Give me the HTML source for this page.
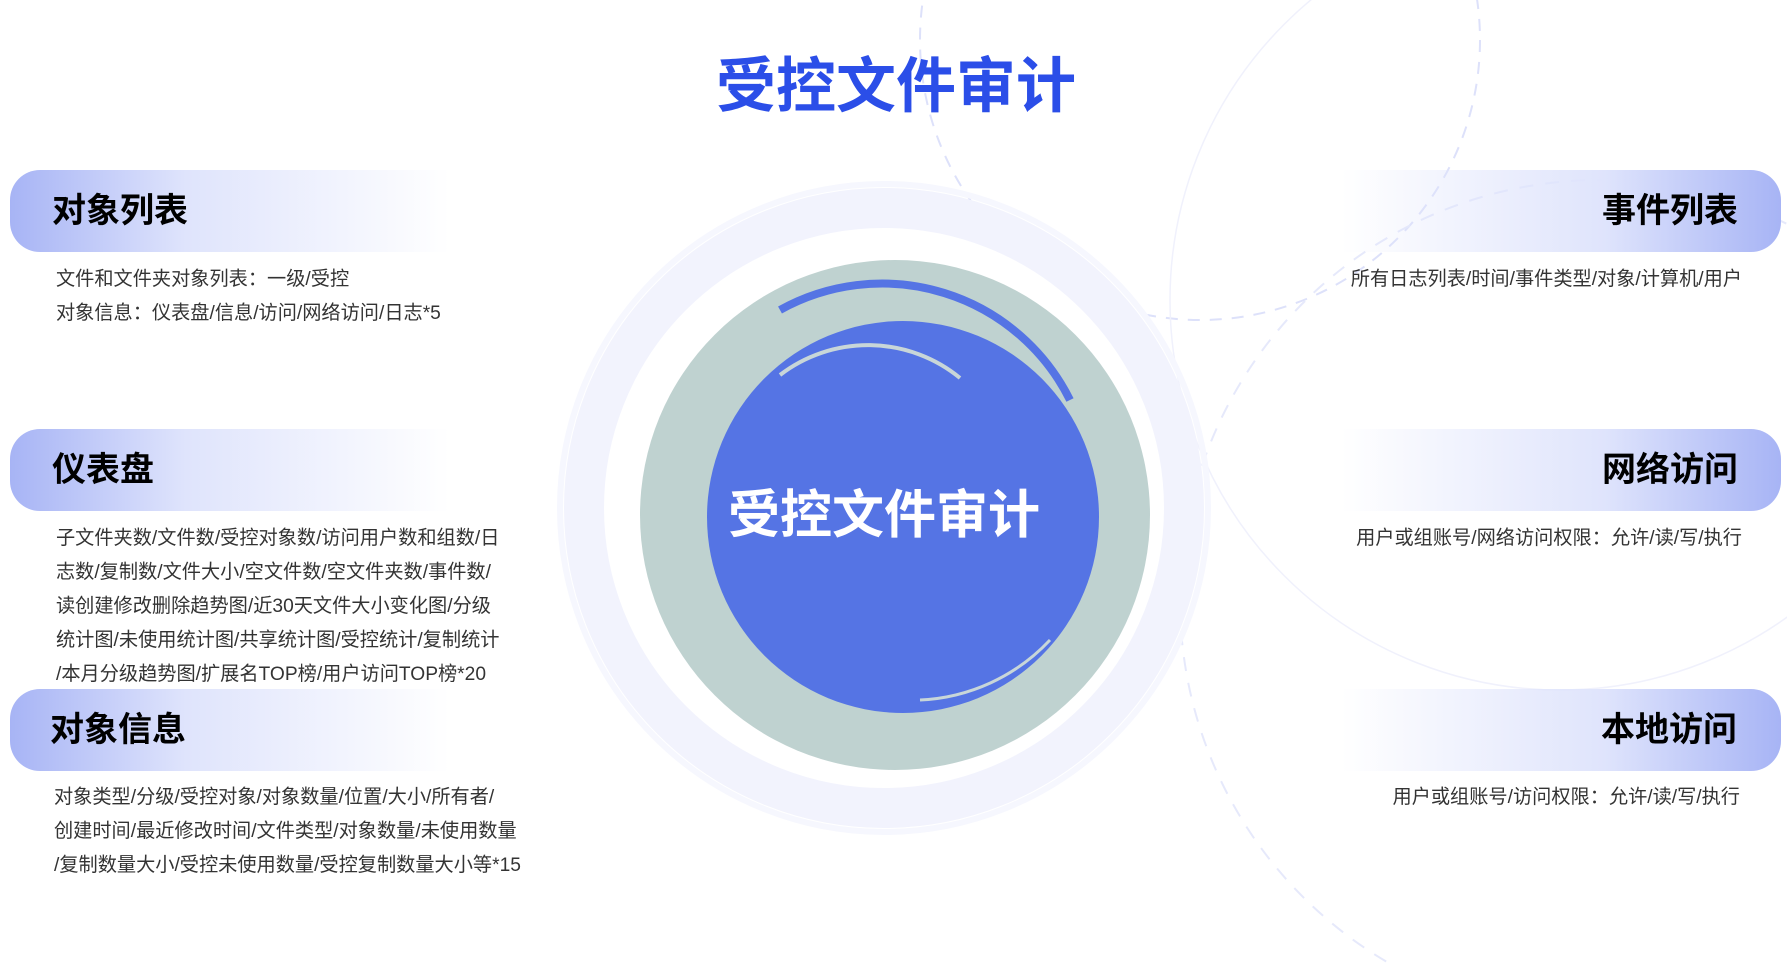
<!DOCTYPE html>
<html><head><meta charset="utf-8"><style>
html,body{margin:0;width:1787px;height:963px;overflow:hidden}
body{background:#fff;position:relative;font-family:"Liberation Sans","Noto Sans CJK SC",sans-serif}
.t{position:absolute;white-space:nowrap}
.ban{position:absolute;height:82px}
.ban.l{left:10px;width:440px;background:linear-gradient(90deg,#a7b4f5 0%,#dfe4fc 40%,rgba(255,255,255,0) 100%);border-radius:30px 0 0 30px}
.ban.r{right:6px;width:440px;background:linear-gradient(270deg,#a7b4f5 0%,#dfe4fc 40%,rgba(255,255,255,0) 100%);border-radius:0 30px 30px 0}
.h{font-size:34px;font-weight:bold;color:#000;line-height:40px}
.b{font-size:19.2px;color:#333;line-height:34px}
</style></head><body>
<svg width="1787" height="963" style="position:absolute;left:0;top:0">
<circle cx="1200" cy="40" r="280" fill="none" stroke="#dde1fa" stroke-width="2" stroke-dasharray="12 10"/>
<circle cx="1600" cy="600" r="420" fill="none" stroke="#e6e9fb" stroke-width="2" stroke-dasharray="14 12"/>
<circle cx="1560" cy="300" r="390" fill="none" stroke="#f0f1fc" stroke-width="1.5"/>
<circle cx="884" cy="508" r="300" fill="none" stroke="#f2f3fd" stroke-width="40"/>
<circle cx="884" cy="508" r="324" fill="none" stroke="#f6f7fe" stroke-width="6"/>
<circle cx="895" cy="515" r="255" fill="#bfd2d0"/>
<circle cx="903" cy="517" r="196" fill="#5574e4"/>
<path d="M780 310 A210 210 0 0 1 1070 400" fill="none" stroke="#5574e4" stroke-width="8"/>
<path d="M780 375 A145 145 0 0 1 960 378" fill="none" stroke="#c8d6d8" stroke-width="4"/>
<path d="M920 700 A190 190 0 0 0 1050 640" fill="none" stroke="#c8d6d8" stroke-width="3"/>
</svg>
<div class="t" style="left:716px;top:38px;font-size:60px;font-weight:bold;color:#2b4ee8">受控文件审计</div>
<div class="t" style="left:728px;top:473px;font-size:52px;font-weight:bold;color:#fff">受控文件审计</div>

<div class="ban l" style="top:170px"></div>
<div class="t h" style="left:52px;top:191px">对象列表</div>
<div class="t b" style="left:56px;top:263px">文件和文件夹对象列表：一级/受控<br>对象信息：仪表盘/信息/访问/网络访问/日志*5</div>

<div class="ban l" style="top:429px"></div>
<div class="t h" style="left:52px;top:450px">仪表盘</div>
<div class="t b" style="left:56px;top:522px">子文件夹数/文件数/受控对象数/访问用户数和组数/日<br>志数/复制数/文件大小/空文件数/空文件夹数/事件数/<br>读创建修改删除趋势图/近30天文件大小变化图/分级<br>统计图/未使用统计图/共享统计图/受控统计/复制统计<br>/本月分级趋势图/扩展名TOP榜/用户访问TOP榜*20</div>

<div class="ban l" style="top:689px"></div>
<div class="t h" style="left:50px;top:710px">对象信息</div>
<div class="t b" style="left:54px;top:781px">对象类型/分级/受控对象/对象数量/位置/大小/所有者/<br>创建时间/最近修改时间/文件类型/对象数量/未使用数量<br>/复制数量大小/受控未使用数量/受控复制数量大小等*15</div>

<div class="ban r" style="top:170px"></div>
<div class="t h" style="right:49px;top:191px">事件列表</div>
<div class="t b" style="right:45px;top:263px">所有日志列表/时间/事件类型/对象/计算机/用户</div>

<div class="ban r" style="top:429px"></div>
<div class="t h" style="right:49px;top:450px">网络访问</div>
<div class="t b" style="right:45px;top:522px">用户或组账号/网络访问权限：允许/读/写/执行</div>

<div class="ban r" style="top:689px"></div>
<div class="t h" style="right:50px;top:710px">本地访问</div>
<div class="t b" style="right:47px;top:781px">用户或组账号/访问权限：允许/读/写/执行</div>
</body></html>
